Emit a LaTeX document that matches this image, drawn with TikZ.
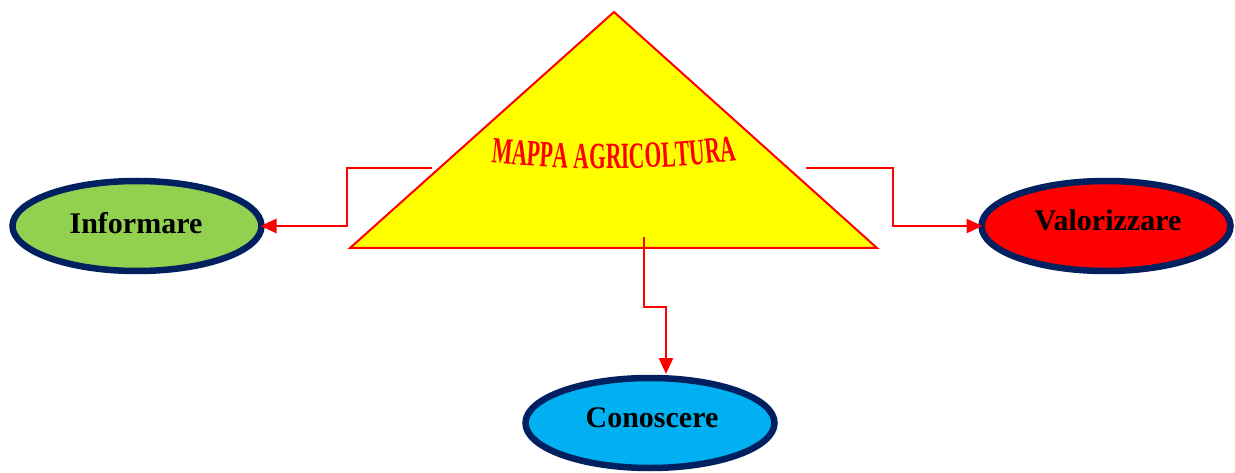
\documentclass[tikz,border=0pt]{standalone}
\usepackage{fontspec}
\setmainfont{Liberation Serif}
\newfontfamily\wafont[FakeStretch=0.58]{Liberation Serif Bold}
\usetikzlibrary{shapes.geometric,arrows.meta,decorations.text}
\definecolor{navy}{HTML}{002060}
\definecolor{leafgreen}{HTML}{92D050}
\definecolor{skyblue}{HTML}{00B0F0}
\definecolor{pureyellow}{HTML}{FFFF00}
\definecolor{purered}{HTML}{FF0000}
\begin{document}
\begin{tikzpicture}[x=1pt,y=-1pt,
  oval/.style={ellipse, draw=navy, line width=6.5pt, minimum width=249pt, minimum height=90pt,
    inner sep=0pt, outer sep=0pt},
  label/.style={inner sep=0pt, font=\bfseries\fontsize{30}{30}\selectfont},
  link/.style={color=purered, line width=2.6pt, -{Triangle[length=16pt,width=14pt]}}]
\useasboundingbox (0,0) rectangle (1235,473);
% triangle
\draw[purered, line width=2pt, fill=pureyellow] (614,12) -- (877,248) -- (350,248) -- cycle;
\path[decorate, decoration={text along path, text align=center,
   text={|\wafont\fontsize{37}{37}\selectfont|MAPPA AGRICOLTURA}, text color=purered}]
   (488,162) .. controls (570,171) and (660,171) .. (740,160);
\coordinate (tl) at (432,168);
\coordinate (tr) at (806,168);
\coordinate (tb) at (644,237);
\coordinate (bend) at (666,307);
% ovals
\node[oval, fill=leafgreen] (inf) at (137,226) {};
\node[label] at (136,223) {Informare};
\node[oval, fill=purered] (val) at (1106,226) {};
\node[label] at (1108,220) {Valorizzare};
\node[oval, fill=skyblue] (con) at (650,423) {};
\node[label] at (652,418) {Conoscere};
\coordinate (conin) at (666,374);
% connectors
\draw[link] (tl) -- (347,168) |- ([xshift=-1pt]inf.east);
\draw[link] (tr) -- (893,168) |- ([xshift=1pt]val.west);
\draw[link] (tb) |- (bend) -- (conin);
\end{tikzpicture}
\end{document}
